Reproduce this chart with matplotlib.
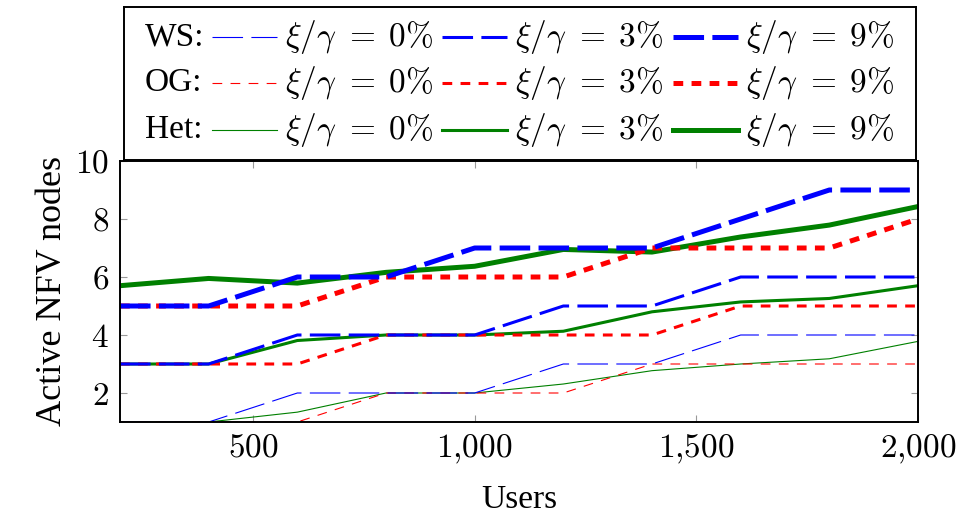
import numpy as np
import matplotlib
matplotlib.use('Agg')
import matplotlib.pyplot as plt
from matplotlib.ticker import FuncFormatter

plt.rcParams['font.family'] = ['Liberation Serif', 'DejaVu Serif']
plt.rcParams['mathtext.fontset'] = 'cm'
plt.rcParams['lines.scale_dashes'] = False

# データ
users = [200, 400, 600, 800, 1000, 1200, 1400, 1600, 1800, 2000]

ws_0 = [1, 1, 2, 2, 2, 3, 3, 4, 4, 4]
ws_3 = [3, 3, 4, 4, 4, 5, 5, 6, 6, 6]
ws_9 = [5, 5, 6, 6, 7, 7, 7, 8, 9, 9]

og_0 = [1, 1, 1, 2, 2, 2, 3, 3, 3, 3]
og_3 = [3, 3, 3, 4, 4, 4, 4, 5, 5, 5]
og_9 = [5, 5, 5, 6, 6, 6, 7, 7, 7, 8]

het_0 = [1, 1, 1.34, 2, 2, 2.31, 2.77, 3.0, 3.18, 3.78]
het_3 = [3, 3, 3.81, 4, 4, 4.13, 4.8, 5.14, 5.26, 5.7]
het_9 = [5.7, 5.95, 5.79, 6.16, 6.37, 6.95, 6.86, 7.38, 7.79, 8.43]

ratios = ['0', '3', '9']
widths = [0.8, 2.2, 3.6]

W, H = 958, 516
fig = plt.figure(figsize=(W / 100, H / 100), dpi=100)
ax = fig.add_axes([120 / W, (H - 422) / H, (918 - 120) / W, (422 - 161) / H])

FS = 24
styles = {
    'WS': dict(color='#0000ff', dashes=(22, 6)),
    'OG': dict(color='#ff0000', dashes=(7, 6)),
    'Het': dict(color='#008000', dashes=None),
}
series = {'WS': [ws_0, ws_3, ws_9], 'OG': [og_0, og_3, og_9], 'Het': [het_0, het_3, het_9]}

# プロット
for name in ['Het', 'OG', 'WS']:
    st = styles[name]
    for vals, lw in zip(series[name], widths):
        line, = ax.plot(users, vals, color=st['color'], lw=lw, solid_joinstyle='round')
        if st['dashes'] is not None:
            line.set_dashes(st['dashes'])
            line.set_dash_capstyle('butt')

ax.set_xlim(200, 2000)
ax.set_ylim(1, 10)
ax.set_xticks([500, 1000, 1500, 2000])
ax.set_yticks([2, 4, 6, 8, 10])
ax.xaxis.set_major_formatter(FuncFormatter(lambda v, p: '$%s$' % format(int(v), ',').replace(',', '{,}')))
ax.yaxis.set_major_formatter(FuncFormatter(lambda v, p: '$%d$' % v))
ax.tick_params(direction='in', length=5, width=0.8, color='#999999', top=True, right=True,
               labelsize=FS, pad=8)
for s in ax.spines.values():
    s.set_linewidth(1.4)
ax.set_xlabel('Users', fontsize=FS, labelpad=13)
ax.set_ylabel('Active NFV nodes', fontsize=26, labelpad=4)

# 凡例（手描き）
lg = fig.add_axes([124 / W, (H - 160) / H, (916 - 124) / W, (160 - 7) / H])
lg.set_xlim(124, 916)
lg.set_ylim(160, 7)
lg.set_xticks([])
lg.set_yticks([])
for s in lg.spines.values():
    s.set_linewidth(1.4)
row_y = [37, 83, 130]
col_x = [212, 442, 673]
for r, name in enumerate(['WS', 'OG', 'Het']):
    st = styles[name]
    lg.text(145, row_y[r], name + ':', fontsize=FS, va='center', ha='left')
    for c in range(3):
        ln, = lg.plot([col_x[c], col_x[c] + 65], [row_y[r], row_y[r]], color=st['color'], lw=widths[c])
        if st['dashes'] is not None:
            ln.set_dashes(st['dashes'])
            ln.set_dash_capstyle('butt')
        lg.text(col_x[c] + 73, row_y[r], r'$\xi/\gamma\,\,=\;%s\%%$' % ratios[c], fontsize=FS,
                va='center', ha='left')

fig.savefig('out.png', dpi=100)
